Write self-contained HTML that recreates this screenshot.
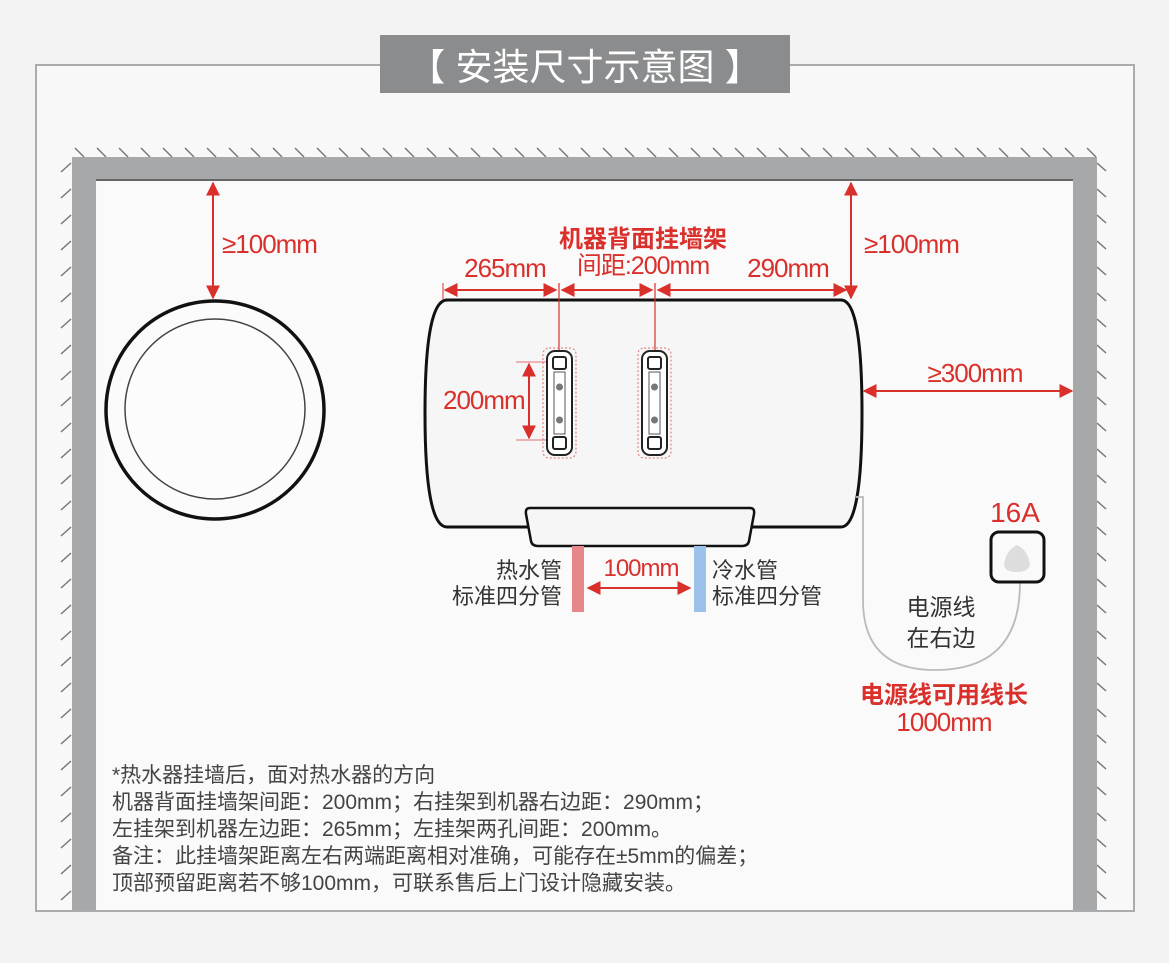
<!DOCTYPE html>
<html><head><meta charset="utf-8"><style>
html,body{margin:0;padding:0;background:#f3f3f3;}
svg{display:block;}
text{font-family:"Liberation Sans","Noto Sans CJK SC",sans-serif;}
</style></head><body>
<svg width="1169" height="963" viewBox="0 0 1169 963" xmlns="http://www.w3.org/2000/svg">
<defs>
<marker id="ah" viewBox="0 0 10 10" refX="9" refY="5" markerWidth="7" markerHeight="7" orient="auto-start-reverse"><path d="M0,0 L10,5 L0,10 z" fill="#d9302c"/></marker>
<pattern id="ht" x="72" y="146" width="22" height="12" patternUnits="userSpaceOnUse"><line x1="3" y1="2" x2="12" y2="11" stroke="#777" stroke-width="1.5"/></pattern>
<pattern id="hl" x="58" y="160" width="14" height="26" patternUnits="userSpaceOnUse"><line x1="3" y1="12" x2="13" y2="3" stroke="#777" stroke-width="1.5"/></pattern>
<pattern id="hr" x="1097" y="160" width="12" height="26" patternUnits="userSpaceOnUse"><line x1="0" y1="3" x2="9" y2="11" stroke="#777" stroke-width="1.5"/></pattern>
</defs>
<rect x="0" y="0" width="1169" height="963" fill="#f3f3f3"/>
<rect x="36" y="65" width="1098" height="846" fill="#f8f8f8" stroke="#a9abad" stroke-width="2"/>
<rect x="380" y="35" width="410" height="58" fill="#8b8c8e"/>
<text x="585" y="80" font-size="37" fill="#fff" text-anchor="middle">【 安装尺寸示意图 】</text>
<!-- wall -->
<rect x="72" y="146" width="1028" height="12" fill="url(#ht)"/>
<rect x="58" y="160" width="14" height="750" fill="url(#hl)"/>
<rect x="1097" y="160" width="12" height="750" fill="url(#hr)"/>
<path d="M72,910 L72,157 L1097,157 L1097,910 L1073,910 L1073,180 L96,180 L96,910 z" fill="#a6a8aa"/>
<line x1="96" y1="180" x2="1073" y2="180" stroke="#666" stroke-width="2"/>
<rect x="97" y="181" width="976" height="729" fill="#fafafa"/>
<!-- circle -->
<circle cx="215" cy="410" r="109" fill="#fbfbfb" stroke="#111" stroke-width="3.5"/>
<circle cx="215" cy="409" r="90" fill="#fcfcfc" stroke="#444" stroke-width="1.5"/>
<line x1="213" y1="183" x2="213" y2="298" stroke="#d9302c" stroke-width="2" marker-start="url(#ah)" marker-end="url(#ah)"/>
<text x="222" y="253" font-size="26" fill="#d9302c" letter-spacing="-1">≥100mm</text>
<!-- tank -->
<path d="M447,300 L841,300 Q862,300 862,413 Q862,527 841,527 L447,527 Q425,527 425,413 Q425,300 447,300 z" fill="#f6f6f6" stroke="#111" stroke-width="3"/>
<path d="M530,508 L750,508 Q755,508 754,514 L749,541 Q748,546 742,546 L538,546 Q532,546 531,541 L526,514 Q525,508 530,508 z" fill="#f6f6f6" stroke="#111" stroke-width="2.5"/>
<rect x="572" y="546" width="12" height="66" fill="#e8878a"/>
<rect x="694" y="546" width="12" height="66" fill="#9cc2ec"/>
<!-- top dims -->
<line x1="445" y1="290" x2="556" y2="290" stroke="#d9302c" stroke-width="2" marker-start="url(#ah)" marker-end="url(#ah)"/>
<line x1="562" y1="290" x2="652" y2="290" stroke="#d9302c" stroke-width="2" marker-start="url(#ah)" marker-end="url(#ah)"/>
<line x1="658" y1="290" x2="846" y2="290" stroke="#d9302c" stroke-width="2" marker-start="url(#ah)" marker-end="url(#ah)"/>
<line x1="443" y1="283" x2="443" y2="300" stroke="#d9302c" stroke-width="1"/>
<line x1="559" y1="283" x2="559" y2="350" stroke="#d9302c" stroke-width="1.2"/>
<line x1="655" y1="283" x2="655" y2="350" stroke="#d9302c" stroke-width="1.2"/>
<line x1="851" y1="183" x2="851" y2="298" stroke="#d9302c" stroke-width="2" marker-start="url(#ah)" marker-end="url(#ah)"/>
<text x="505" y="277" font-size="26" fill="#d9302c" text-anchor="middle" letter-spacing="-1">265mm</text>
<text x="643" y="247" font-size="24" fill="#d9302c" text-anchor="middle" font-weight="bold">机器背面挂墙架</text>
<text x="643" y="274" font-size="25" fill="#d9302c" text-anchor="middle" letter-spacing="-1">间距:200mm</text>
<text x="788" y="277" font-size="26" fill="#d9302c" text-anchor="middle" letter-spacing="-1">290mm</text>
<text x="864" y="253" font-size="26" fill="#d9302c" letter-spacing="-1">≥100mm</text>
<!-- brackets -->
<g>
<rect x="543" y="348" width="33" height="110" rx="6" fill="none" stroke="#e07070" stroke-width="1" stroke-dasharray="2,2"/>
<rect x="547" y="351" width="25" height="104" rx="8" fill="#fff" stroke="#222" stroke-width="2"/>
<rect x="553" y="357" width="13" height="12" rx="2" fill="none" stroke="#222" stroke-width="2"/>
<rect x="553" y="437" width="13" height="12" rx="2" fill="none" stroke="#222" stroke-width="2"/>
<rect x="554" y="372" width="11" height="62" fill="none" stroke="#555" stroke-width="1"/>
<circle cx="559.5" cy="387" r="3.5" fill="#777"/><circle cx="559.5" cy="420" r="3.5" fill="#777"/>
</g>
<g transform="translate(95,0)">
<rect x="543" y="348" width="33" height="110" rx="6" fill="none" stroke="#e07070" stroke-width="1" stroke-dasharray="2,2"/>
<rect x="547" y="351" width="25" height="104" rx="8" fill="#fff" stroke="#222" stroke-width="2"/>
<rect x="553" y="357" width="13" height="12" rx="2" fill="none" stroke="#222" stroke-width="2"/>
<rect x="553" y="437" width="13" height="12" rx="2" fill="none" stroke="#222" stroke-width="2"/>
<rect x="554" y="372" width="11" height="62" fill="none" stroke="#555" stroke-width="1"/>
<circle cx="559.5" cy="387" r="3.5" fill="#777"/><circle cx="559.5" cy="420" r="3.5" fill="#777"/>
</g>
<line x1="516" y1="362" x2="546" y2="362" stroke="#e07070" stroke-width="1"/>
<line x1="516" y1="440" x2="546" y2="440" stroke="#e07070" stroke-width="1"/>
<line x1="529" y1="364" x2="529" y2="438" stroke="#d9302c" stroke-width="2" marker-start="url(#ah)" marker-end="url(#ah)"/>
<text x="443" y="409" font-size="26" fill="#d9302c" letter-spacing="-1">200mm</text>
<!-- right -->
<line x1="864" y1="391" x2="1072" y2="391" stroke="#d9302c" stroke-width="2" marker-start="url(#ah)" marker-end="url(#ah)"/>
<text x="975" y="382" font-size="26" fill="#d9302c" text-anchor="middle" letter-spacing="-1">≥300mm</text>
<!-- pipes text -->
<text x="562" y="578" font-size="22" fill="#333" text-anchor="end">热水管</text>
<text x="562" y="604" font-size="22" fill="#333" text-anchor="end">标准四分管</text>
<text x="712" y="578" font-size="22" fill="#333">冷水管</text>
<text x="712" y="604" font-size="22" fill="#333">标准四分管</text>
<text x="641" y="576" font-size="24" fill="#d9302c" text-anchor="middle" letter-spacing="-1">100mm</text>
<line x1="588" y1="588" x2="690" y2="588" stroke="#d9302c" stroke-width="2" marker-start="url(#ah)" marker-end="url(#ah)"/>
<!-- cord/socket -->
<path d="M856,497 L863,497 L863,600 Q863,670 935,670 Q1020,670 1020,583" fill="none" stroke="#bbb" stroke-width="1.8"/>
<rect x="991" y="532" width="53" height="50" rx="8" fill="#fafafa" stroke="#111" stroke-width="3"/>
<path d="M1017,545 Q1028,550 1030,565 Q1028,572 1017,572 Q1005,572 1004,565 Q1006,550 1017,545 z" fill="#ddd"/>
<text x="1015" y="522" font-size="28" fill="#d9302c" text-anchor="middle">16A</text>
<text x="941" y="615" font-size="23" fill="#333" text-anchor="middle">电源线</text>
<text x="941" y="646" font-size="23" fill="#333" text-anchor="middle">在右边</text>
<text x="944" y="703" font-size="24" fill="#d9302c" text-anchor="middle" font-weight="bold">电源线可用线长</text>
<text x="944" y="731" font-size="26" fill="#d9302c" text-anchor="middle" letter-spacing="-1">1000mm</text>
<!-- notes -->
<g font-size="21" fill="#444">
<text x="112" y="782">*热水器挂墙后，面对热水器的方向</text>
<text x="112" y="809">机器背面挂墙架间距：200mm；右挂架到机器右边距：290mm；</text>
<text x="112" y="836">左挂架到机器左边距：265mm；左挂架两孔间距：200mm。</text>
<text x="112" y="863">备注：此挂墙架距离左右两端距离相对准确，可能存在±5mm的偏差；</text>
<text x="112" y="890">顶部预留距离若不够100mm，可联系售后上门设计隐藏安装。</text>
</g>
</svg>
</body></html>
